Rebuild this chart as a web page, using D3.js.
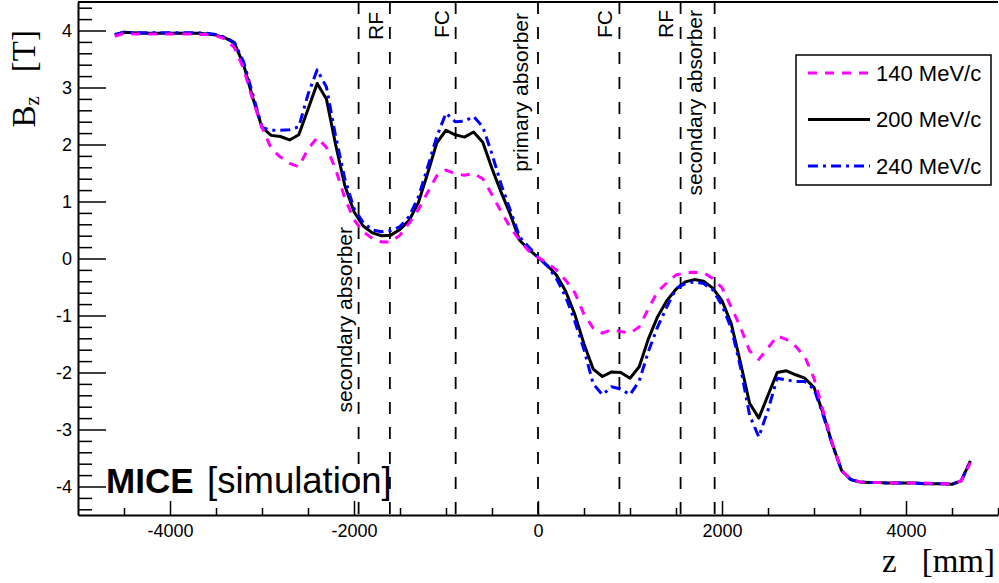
<!DOCTYPE html>
<html>
<head>
<meta charset="utf-8">
<script src="https://cdn.jsdelivr.net/npm/d3@7"></script>
<style>
  body { margin: 0; background: #fff; }
  svg { display: block; }
  .tick text { font-family: "Liberation Sans", Arial, sans-serif; font-size: 18px; fill: #000; }
</style>
</head>
<body>
<svg id="chart" width="999" height="583"></svg>
<script>
// z positions along the beam line [mm]
const zPositions = [
  -4600, -4500, -4400, -4300, -4200, -4100, -4000, -3900, -3800, -3700,
  -3600, -3500, -3400, -3300, -3200, -3100, -3000, -2900, -2800, -2700,
  -2600, -2500, -2400, -2300, -2200, -2100, -2000, -1900, -1800, -1700,
  -1600, -1500, -1400, -1300, -1200, -1100, -1000, -900, -800, -700,
  -600, -500, -400, -300, -200, -100, 0, 100, 200, 300,
  400, 500, 600, 700, 800, 900, 1000, 1100, 1200, 1300,
  1400, 1500, 1600, 1700, 1800, 1900, 2000, 2100, 2200, 2300,
  2400, 2500, 2600, 2700, 2800, 2900, 3000, 3100, 3200, 3300,
  3400, 3500, 3600, 3700, 3800, 3900, 4000, 4100, 4200, 4300,
  4400, 4500, 4600, 4700
];

// Bz [T] for each momentum setting
const field140 = [
  3.90, 3.95, 3.94, 3.94, 3.94, 3.94, 3.94, 3.94, 3.94, 3.93,
  3.93, 3.91, 3.85, 3.70, 3.33, 2.78, 2.30, 1.93, 1.78, 1.67,
  1.61, 1.92, 2.12, 1.95, 1.57, 1.06, 0.68, 0.47, 0.35, 0.29,
  0.29, 0.41, 0.62, 0.86, 1.16, 1.45, 1.55, 1.49, 1.46, 1.49,
  1.40, 1.12, 0.82, 0.54, 0.32, 0.13, 0.02, -0.08, -0.20, -0.38,
  -0.60, -0.98, -1.22, -1.31, -1.25, -1.28, -1.31, -1.20, -0.88, -0.58,
  -0.43, -0.29, -0.25, -0.24, -0.25, -0.35, -0.51, -0.85, -1.20, -1.62,
  -1.77, -1.57, -1.36, -1.42, -1.54, -1.72, -2.10, -2.68, -3.25, -3.72,
  -3.87, -3.92, -3.93, -3.93, -3.93, -3.94, -3.94, -3.94, -3.94, -3.95,
  -3.95, -3.95, -3.90, -3.58
];
const field200 = [
  3.92, 3.97, 3.96, 3.95, 3.95, 3.95, 3.95, 3.95, 3.95, 3.95,
  3.94, 3.92, 3.87, 3.78, 3.40, 2.82, 2.30, 2.16, 2.14, 2.08,
  2.17, 2.62, 3.07, 2.80, 2.00, 1.28, 0.82, 0.57, 0.45, 0.40,
  0.41, 0.51, 0.67, 0.98, 1.49, 2.03, 2.25, 2.17, 2.13, 2.22,
  2.04, 1.58, 1.16, 0.77, 0.32, 0.16, 0.02, -0.12, -0.29, -0.57,
  -0.98, -1.50, -1.94, -2.07, -1.99, -2.00, -2.10, -1.90, -1.41, -1.02,
  -0.74, -0.54, -0.41, -0.37, -0.40, -0.52, -0.74, -1.14, -1.82, -2.54,
  -2.80, -2.40, -2.00, -1.97, -2.04, -2.10, -2.26, -2.72, -3.26, -3.72,
  -3.88, -3.92, -3.93, -3.93, -3.94, -3.94, -3.94, -3.94, -3.95, -3.95,
  -3.95, -3.96, -3.90, -3.55
];
const field240 = [
  3.93, 3.97, 3.96, 3.96, 3.96, 3.96, 3.96, 3.96, 3.96, 3.96,
  3.95, 3.93, 3.88, 3.79, 3.45, 2.88, 2.30, 2.25, 2.25, 2.26,
  2.31, 2.88, 3.31, 3.01, 2.15, 1.40, 0.88, 0.63, 0.50, 0.47,
  0.49, 0.56, 0.74, 1.08, 1.60, 2.14, 2.55, 2.40, 2.41, 2.49,
  2.31, 1.83, 1.30, 0.84, 0.38, 0.20, 0.03, -0.13, -0.35, -0.67,
  -1.10, -1.60, -2.20, -2.39, -2.25, -2.29, -2.39, -2.15, -1.63, -1.20,
  -0.85, -0.53, -0.44, -0.41, -0.44, -0.55, -0.82, -1.22, -1.90, -2.75,
  -3.13, -2.66, -2.10, -2.13, -2.16, -2.16, -2.29, -2.75, -3.27, -3.72,
  -3.88, -3.92, -3.93, -3.93, -3.94, -3.94, -3.94, -3.94, -3.95, -3.95,
  -3.95, -3.96, -3.90, -3.55
];

const seriesNames = ["140 MeV/c", "200 MeV/c", "240 MeV/c"];

// cooling-channel elements (vertical markers)
const elementZ = [-1950, -1610, -895, 0, 885, 1550, 1920];
const elementNames = ["secondary absorber", "RF", "FC", "primary absorber", "FC", "RF", "secondary absorber"];

const xMajor = [-4000, -2000, 0, 2000, 4000];
const xMinor = [-4500, -3500, -3000, -2500, -1500, -1000, -500, 500, 1000, 1500, 2500, 3000, 3500, 4500, 5000];
const yMajor = [-4, -3, -2, -1, 0, 1, 2, 3, 4];
const yMinor = [-4.4, -4.2, -3.8, -3.6, -3.4, -3.2, -2.8, -2.6, -2.4, -2.2, -1.8, -1.6, -1.4, -1.2,
  -0.8, -0.6, -0.4, -0.2, 0.2, 0.4, 0.6, 0.8, 1.2, 1.4, 1.6, 1.8, 2.2, 2.4, 2.6, 2.8,
  3.2, 3.4, 3.6, 3.8, 4.2, 4.4];

// ---- layout ----
const frame = {left: 78, right: 998, top: 2, bottom: 515};
const labelDx = [7, 7, 7, 10, 7, 8, 13];
const labelEndY = [227, 12, 10, 13, 10, 10, 10];

const svg = d3.select("#chart");

const x = d3.scaleLinear().domain([-5000, 5000]).range([frame.left, frame.right]);
const y = d3.scaleLinear().domain([-4.5, 4.5]).range([frame.bottom, frame.top]);

// top frame line
svg.append("line")
  .attr("x1", frame.left).attr("x2", frame.right)
  .attr("y1", frame.top).attr("y2", frame.top)
  .attr("stroke", "#000").attr("stroke-width", 2);

// element markers
svg.append("g").selectAll("line")
  .data(elementZ)
  .enter().append("line")
  .attr("x1", d => x(d)).attr("x2", d => x(d))
  .attr("y1", frame.top).attr("y2", frame.bottom)
  .attr("stroke", "#000").attr("stroke-width", 1.8)
  .attr("stroke-dasharray", "12,13");

svg.append("g").selectAll("text")
  .data(elementNames)
  .enter().append("text")
  .attr("transform", (d, i) => "translate(" + (x(elementZ[i]) - labelDx[i]) + "," + labelEndY[i] + ") rotate(-90)")
  .attr("text-anchor", "end")
  .style("font-family", "'Liberation Sans', Arial, sans-serif")
  .style("font-size", "21px")
  .text(d => d);

// x axis
const xAxis = svg.append("g")
  .attr("transform", "translate(0," + frame.bottom + ")")
  .call(d3.axisBottom(x).tickValues(xMajor).tickSize(-14).tickSizeOuter(0).tickPadding(9)
    .tickFormat(d => String(d)));
xAxis.select(".domain").attr("stroke-width", 2);
xAxis.selectAll(".tick line").attr("stroke-width", 1.5);

svg.append("g")
  .attr("transform", "translate(0," + frame.bottom + ")")
  .call(d3.axisBottom(x).tickValues(xMinor).tickSize(-7).tickFormat(""))
  .call(g => g.select(".domain").remove())
  .selectAll(".tick line").attr("stroke-width", 1.5);

// y axis
const yAxis = svg.append("g")
  .attr("transform", "translate(" + frame.left + ",0)")
  .call(d3.axisLeft(y).tickValues(yMajor).tickSize(-28).tickSizeOuter(0).tickPadding(6)
    .tickFormat(d => String(d)));
yAxis.select(".domain").attr("stroke-width", 2);
yAxis.selectAll(".tick line").attr("stroke-width", 1.5);

svg.append("g")
  .attr("transform", "translate(" + frame.left + ",0)")
  .call(d3.axisLeft(y).tickValues(yMinor).tickSize(-14).tickFormat(""))
  .call(g => g.select(".domain").remove())
  .selectAll(".tick line").attr("stroke-width", 1.5);

// curves
const line = d3.line()
  .x((d, i) => x(zPositions[i]))
  .y(d => y(d));

const styles = [
  {color: "#ff00ff", dash: "9,8"},
  {color: "#000000", dash: null},
  {color: "#0000ff", dash: "10,5,3,5"}
];
const series = [field140, field200, field240];
const drawOrder = [1, 2, 0];

drawOrder.forEach(k => {
  svg.append("path")
    .datum(series[k])
    .attr("d", line)
    .attr("fill", "none")
    .attr("stroke", styles[k].color)
    .attr("stroke-width", 3)
    .attr("stroke-linejoin", "round")
    .attr("stroke-dasharray", styles[k].dash);
});

// legend
const legend = svg.append("g");
legend.append("rect")
  .attr("x", 796).attr("y", 55).attr("width", 195).attr("height", 130)
  .attr("fill", "#fff").attr("stroke", "#000").attr("stroke-width", 1.5);

const legendY = d3.scalePoint().domain(seriesNames).range([73, 166]);
seriesNames.forEach((name, k) => {
  legend.append("line")
    .attr("x1", 808).attr("x2", 870)
    .attr("y1", legendY(name)).attr("y2", legendY(name))
    .attr("stroke", styles[k].color).attr("stroke-width", 3)
    .attr("stroke-dasharray", styles[k].dash);
  legend.append("text")
    .attr("x", 876).attr("y", legendY(name))
    .attr("dy", "0.36em")
    .style("font-family", "'Liberation Sans', Arial, sans-serif")
    .style("font-size", "22px")
    .text(name);
});

// axis titles
const yTitle = svg.append("text")
  .attr("transform", "translate(35,30) rotate(-90)")
  .attr("text-anchor", "end")
  .style("font-family", "'Liberation Serif', 'Times New Roman', serif")
  .style("font-size", "33px");
yTitle.append("tspan").text("B");
yTitle.append("tspan").attr("dy", 4).style("font-size", "21px").text("z");
yTitle.append("tspan").attr("dy", -4).attr("dx", 24).text("[T]");

const xTitle = svg.append("text")
  .attr("x", 882).attr("y", 572)
  .style("font-family", "'Liberation Serif', 'Times New Roman', serif")
  .style("font-size", "33px");
xTitle.append("tspan").text("z");
xTitle.append("tspan").attr("dx", 25).text("[mm]");

// experiment tag
const tag = svg.append("text")
  .attr("x", 106).attr("y", 493)
  .style("font-family", "'Liberation Sans', Arial, sans-serif")
  .style("font-size", "35px");
tag.append("tspan").style("font-weight", "bold").text("MICE");
tag.append("tspan").attr("x", 207).style("font-size", "36.5px").text("[simulation]");
</script>
</body>
</html>
